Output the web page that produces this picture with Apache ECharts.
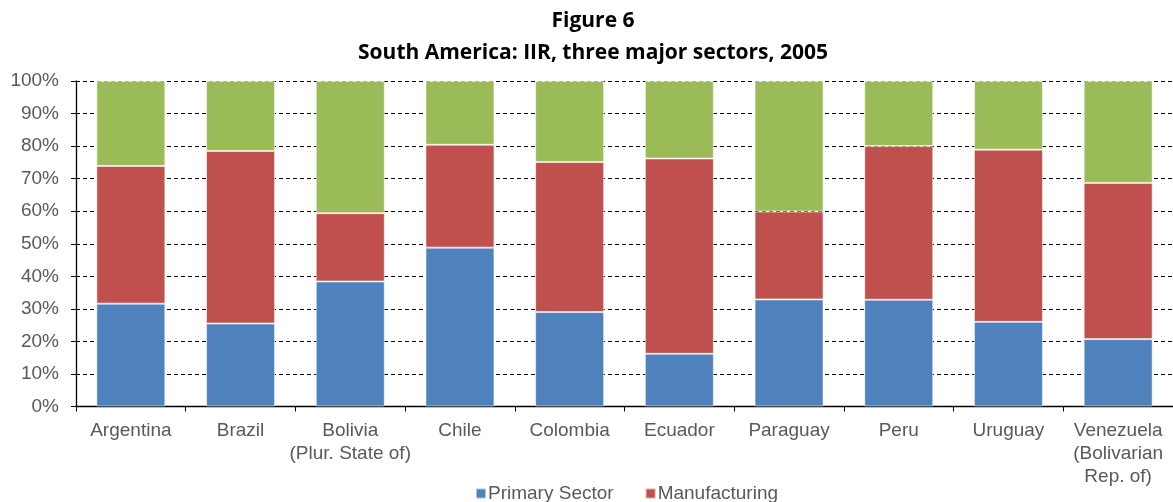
<!DOCTYPE html>
<html>
<head>
<meta charset="utf-8">
<script src="https://cdn.jsdelivr.net/npm/echarts@6/dist/echarts.min.js"></script>
<style>
  html, body { margin: 0; padding: 0; background: #fff; }
  #chart { width: 1173px; height: 502px; }
</style>
</head>
<body>
<div id="chart"></div>
<script>
// Countries on the category axis
const countries = [
  'Argentina', 'Brazil', 'Bolivia\n(Plur. State of)', 'Chile', 'Colombia',
  'Ecuador', 'Paraguay', 'Peru', 'Uruguay', 'Venezuela\n(Bolivarian\nRep. of)'
];

// Share of intra-industry trade by sector, percent (stacks sum to 100)
const primarySector = [31.6, 25.5, 38.4, 48.8, 29.0, 16.2, 32.9, 32.8, 26.0, 20.7];
const manufacturing = [42.3, 53.0, 21.0, 31.6, 46.1, 60.0, 27.0, 47.2, 52.9, 48.0];
const services      = [26.1, 21.5, 40.6, 19.6, 24.9, 23.8, 40.1, 20.0, 21.1, 31.3];

// Value axis ticks
const yTicks = [0, 10, 20, 30, 40, 50, 60, 70, 80, 90, 100];

const labelFont = '"Liberation Sans", Arial, sans-serif';
const barBorder = { borderColor: 'rgba(255,255,255,0.55)', borderWidth: 1 };

const chart = echarts.init(document.getElementById('chart'), null, { renderer: 'canvas' });

chart.setOption({
  animation: false,
  title: {
    text: 'Figure 6\nSouth America: IIR, three major sectors, 2005',
    left: 588,
    top: 0,
    textAlign: 'center',
    textStyle: {
      fontFamily: '"Open Sans", Lato, sans-serif',
      fontWeight: 'bold',
      fontSize: 21,
      lineHeight: 32,
      color: '#000'
    }
  },
  legend: {
    data: ['Primary Sector', 'Manufacturing'],
    left: 470,
    top: 479,
    itemWidth: 10,
    itemHeight: 10,
    itemGap: 31,
    icon: 'rect',
    textStyle: { fontFamily: labelFont, fontSize: 19, color: '#595959', padding: [0, 0, 0, -3] }
  },
  grid: { left: 76, right: -5, top: 81, bottom: 95.5, containLabel: false },
  xAxis: {
    type: 'category',
    data: countries,
    axisLine: { lineStyle: { color: '#000', width: 1.3 } },
    axisTick: { show: true, length: 5, lineStyle: { color: '#000' } },
    axisLabel: {
      interval: 0,
      margin: 13,
      fontFamily: labelFont,
      fontSize: 19,
      lineHeight: 23,
      color: '#595959'
    },
    splitLine: { show: false }
  },
  yAxis: {
    type: 'value',
    min: yTicks[0],
    max: yTicks[yTicks.length - 1],
    interval: yTicks[1] - yTicks[0],
    axisLine: { show: true, lineStyle: { color: '#000', width: 1.3 } },
    axisTick: { show: true, inside: false, length: 5, lineStyle: { color: '#000' } },
    axisLabel: {
      margin: 17,
      formatter: v => v + '%',
      fontFamily: labelFont,
      fontSize: 19,
      color: '#595959'
    },
    splitLine: { show: true, lineStyle: { color: '#000', type: [4, 3], width: 1 } }
  },
  series: [
    {
      name: 'Primary Sector', type: 'bar', stack: 'iir', data: primarySector,
      barWidth: 69, itemStyle: Object.assign({ color: '#4F81BD' }, barBorder)
    },
    {
      name: 'Manufacturing', type: 'bar', stack: 'iir', data: manufacturing,
      barWidth: 69, itemStyle: Object.assign({ color: '#C0504D' }, barBorder)
    },
    {
      name: 'Services', type: 'bar', stack: 'iir', data: services,
      barWidth: 69, itemStyle: Object.assign({ color: '#9BBB59' }, barBorder)
    }
  ]
});
</script>
</body>
</html>
